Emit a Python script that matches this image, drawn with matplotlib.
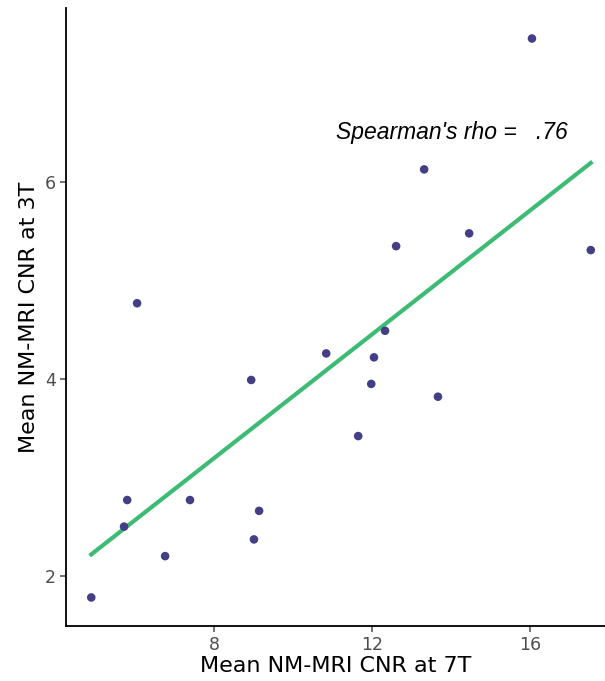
import numpy as np
import matplotlib
matplotlib.use('Agg')
import matplotlib.pyplot as plt

# mean CNR per subject
cnr_7t = [4.89, 5.72, 5.80, 6.05, 6.76, 7.39, 8.94, 9.01, 9.14, 10.84,
          11.65, 11.98, 12.05, 12.33, 12.61, 13.32, 13.67, 14.46, 16.05, 17.54]
cnr_3t = [1.78, 2.50, 2.77, 4.77, 2.20, 2.77, 3.99, 2.37, 2.66, 4.26,
          3.42, 3.95, 4.22, 4.49, 5.35, 6.13, 3.82, 5.48, 7.46, 5.31]
annot = "Spearman's rho =   .76"

x = np.array(cnr_7t)
y = np.array(cnr_3t)

fig = plt.figure(figsize=(6.05, 6.81), dpi=100)
ax = fig.add_axes([66 / 605, 55 / 681, 539 / 605, 618 / 681])

# linear fit line
slope, icpt = np.polyfit(x, y, 1)
xs = np.array([x.min(), x.max()])
ax.plot(xs, slope * xs + icpt, color='#3dbb74', lw=3, zorder=2)

ax.scatter(x, y, s=38, color='#433e85', zorder=3, edgecolors='none')

ax.text(14.03, 6.5, annot, fontsize=16.5, style='italic', family='Liberation Sans',
        ha='center', va='center')

ax.set_xlim(4.25, 17.9)
ax.set_ylim(1.49, 7.77)
ax.set_xticks([8, 12, 16])
ax.set_yticks([2, 4, 6])

for s in ['top', 'right']:
    ax.spines[s].set_visible(False)
for s in ['left', 'bottom']:
    ax.spines[s].set_linewidth(1.3)
    ax.spines[s].set_color('black')

ax.tick_params(axis='both', colors='#4d4d4d', labelsize=12.5, length=4, width=1.1)
ax.set_xlabel('Mean NM-MRI CNR at 7T', fontsize=16, labelpad=1)
ax.set_ylabel('Mean NM-MRI CNR at 3T', fontsize=16, labelpad=4)

fig.savefig('out.png', dpi=100)
